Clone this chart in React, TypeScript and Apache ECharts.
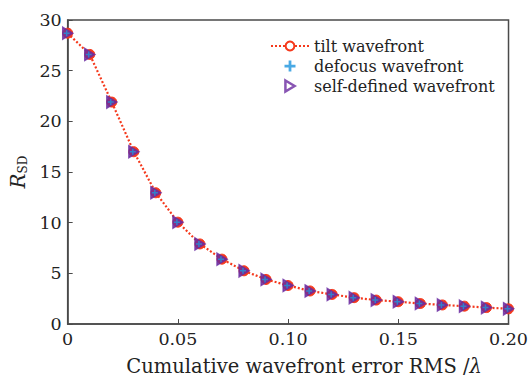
import React, { useEffect, useRef } from "react";
import * as echarts from "echarts";

const xValues = [0, 0.01, 0.02, 0.03, 0.04, 0.05, 0.06, 0.07, 0.08, 0.09, 0.1, 0.11, 0.12, 0.13, 0.14, 0.15, 0.16, 0.17, 0.18, 0.19, 0.2];
const tilt = [28.7, 26.6, 21.9, 17.0, 12.95, 10.05, 7.9, 6.4, 5.25, 4.4, 3.8, 3.26, 2.92, 2.6, 2.36, 2.2, 2.02, 1.88, 1.76, 1.62, 1.5];
const defocus = [28.7, 26.6, 21.9, 17.0, 12.95, 10.05, 7.9, 6.4, 5.25, 4.4, 3.8, 3.26, 2.92, 2.6, 2.36, 2.2, 2.02, 1.88, 1.76, 1.62, 1.5];
const selfDefined = [28.7, 26.6, 21.9, 17.0, 12.95, 10.05, 7.9, 6.4, 5.25, 4.4, 3.8, 3.26, 2.92, 2.6, 2.36, 2.2, 2.02, 1.88, 1.76, 1.62, 1.5];
const seriesNames = ["tilt wavefront", "defocus wavefront", "self-defined wavefront"];

const RED = "#f5391c";
const BLUE = "#1b93dd";
const PURPLE = "#6a2aa0";
const FONT = "'DejaVu Serif', serif";

const pair = (ys: number[]) => xValues.map((x, i) => [x, ys[i]]);

export default function App() {
  const ref = useRef<HTMLDivElement>(null);
  useEffect(() => {
    const chart = echarts.init(ref.current!, null, { renderer: "svg" });
    chart.setOption({
      animation: false,
      backgroundColor: "#fff",
      grid: {
        left: 62,
        right: 21,
        top: 20,
        bottom: 50,
        show: true,
        borderColor: "#4a4a4a",
        borderWidth: 1.5,
      },
      legend: {
        data: [
          { name: seriesNames[0], itemStyle: { color: "#fff", borderColor: RED, borderWidth: 2 } },
          { name: seriesNames[1] },
          { name: seriesNames[2], itemStyle: { color: "#fff", borderColor: PURPLE, borderWidth: 2.5 } },
        ],
        orient: "vertical",
        left: 265,
        top: 33,
        itemWidth: 38,
        itemHeight: 11,
        itemGap: 4,
        textStyle: { fontFamily: FONT, fontSize: 16, color: "#222" },
      },
      xAxis: {
        type: "value",
        min: 0,
        max: 0.2,
        interval: 0.05,
        name: "{n|Cumulative wavefront error RMS /}{l|λ}",
        nameLocation: "middle",
        nameGap: 32,
        nameTextStyle: {
          padding: [0, 0, 0, 32],
          rich: {
            n: { fontFamily: FONT, fontSize: 19.5, color: "#222" },
            l: { fontFamily: FONT, fontSize: 19.5, fontStyle: "italic", color: "#222" },
          },
        },
        axisLine: { lineStyle: { color: "#4a4a4a", width: 1.5 } },
        axisTick: { inside: true, length: 5, lineStyle: { color: "#4a4a4a" } },
        axisLabel: {
          margin: 6,
          fontFamily: FONT,
          fontSize: 17.5,
          color: "#222",
          formatter: (v: number) => (v === 0 ? "0" : v.toFixed(2)),
        },
        splitLine: { show: false },
      },
      yAxis: {
        type: "value",
        min: 0,
        max: 30,
        interval: 5,
        name: "{r|R}{s|SD}",
        nameLocation: "middle",
        nameGap: 32,
        nameRotate: 90,
        nameTextStyle: {
          rich: {
            r: { fontFamily: FONT, fontSize: 20, fontStyle: "italic", color: "#222" },
            s: { fontFamily: FONT, fontSize: 12, color: "#222", padding: [9, 0, 0, 0] },
          },
        },
        axisLine: { lineStyle: { color: "#4a4a4a", width: 1.5 } },
        axisTick: { inside: true, length: 5, lineStyle: { color: "#4a4a4a" } },
        axisLabel: { margin: 6, fontFamily: FONT, fontSize: 17.5, color: "#222" },
        splitLine: { show: false },
      },
      series: [
        {
          name: seriesNames[0],
          type: "line",
          data: pair(tilt),
          symbol: "circle",
          symbolSize: 10,
          z: 2,
          lineStyle: { color: RED, width: 2.2, type: [2, 2] },
          itemStyle: { color: RED, borderColor: RED, borderWidth: 1 },
        },
        {
          name: seriesNames[2],
          type: "scatter",
          data: pair(selfDefined),
          symbol: "path://M0,0L10,6L0,12Z",
          symbolSize: [10, 12],
          z: 3,
          itemStyle: { color: PURPLE, borderColor: PURPLE, borderWidth: 1.5 },
        },
        {
          name: seriesNames[1],
          type: "scatter",
          data: pair(defocus),
          symbol: "path://M3,0h2v3h3v2h-3v3h-2v-3h-3v-2h3z",
          symbolSize: 6,
          symbolOffset: [-1, 0],
          z: 4,
          itemStyle: { color: BLUE },
        },
      ],
    });
    return () => chart.dispose();
  }, []);
  return (
    <div
      ref={ref}
      style={{ position: "absolute", left: 0, top: 0, width: 531, height: 381 }}
    />
  );
}
